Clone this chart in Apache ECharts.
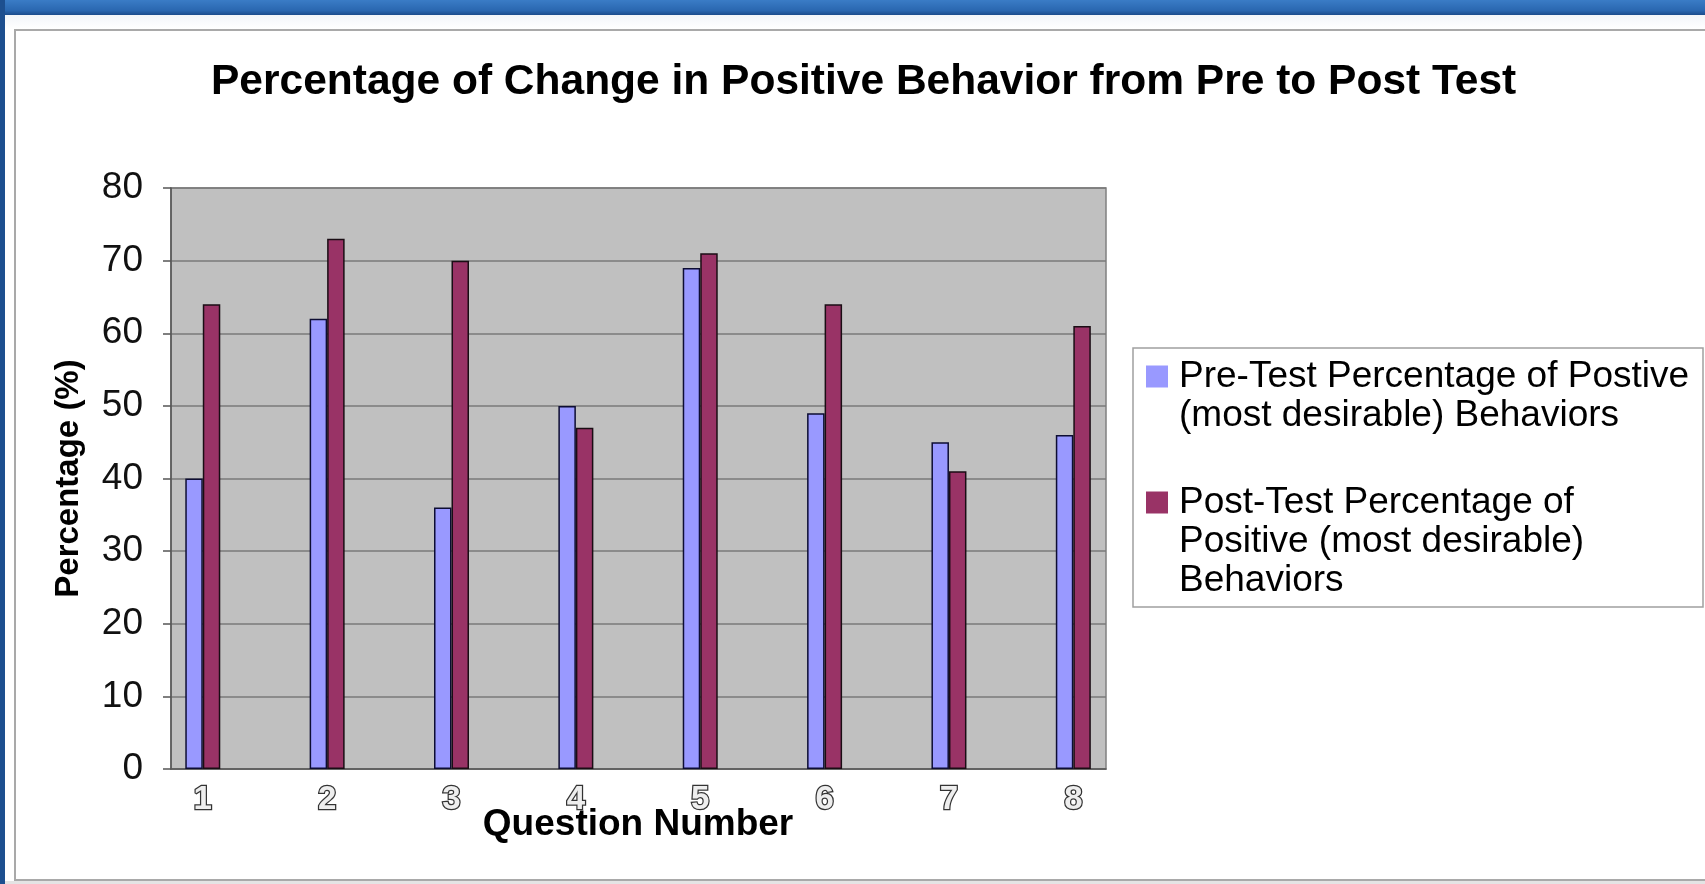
<!DOCTYPE html>
<html>
<head>
<meta charset="utf-8">
<title>Percentage of Change in Positive Behavior from Pre to Post Test</title>
<script src="https://cdn.jsdelivr.net/npm/echarts@6/dist/echarts.min.js"></script>
<style>
  html, body { margin: 0; padding: 0; background: #ffffff; }
  #chart { width: 1705px; height: 884px; }
</style>
</head>
<body>
<div id="chart"></div>
<script>
// Question numbers along the x axis
const questionLabels = ['1', '2', '3', '4', '5', '6', '7', '8'];

// Percentage of positive behaviors per question
const preTest = [40, 62, 36, 50, 69, 49, 45, 46];
const postTest = [64, 73, 70, 47, 71, 64, 41, 61];

// Series names and how they wrap inside the legend
const seriesNames = [
  'Pre-Test Percentage of Postive (most desirable) Behaviors',
  'Post-Test Percentage of Positive (most desirable) Behaviors'
];
const legendLines = [
  ['Pre-Test Percentage of Postive', '(most desirable) Behaviors'],
  ['Post-Test Percentage of', 'Positive (most desirable)', 'Behaviors']
];

// Value axis range
const yMin = 0;
const yMax = 80;
const yStep = 10;

const FONT = '"Liberation Sans", Arial, Helvetica, sans-serif';
const LEGEND_LH = 39;

const chart = echarts.init(document.getElementById('chart'), null, { renderer: 'canvas' });

// One legend per series; leading empty lines keep the swatch level with the first text line
function legendFor(i, top) {
  const lines = legendLines[i];
  const lead = new Array(lines.length - 1).fill('').join('\n');
  return {
    data: [seriesNames[i]],
    orient: 'vertical',
    left: 1146,
    top: top,
    padding: 0,
    icon: 'rect',
    itemWidth: 22,
    itemHeight: 22,
    itemStyle: { borderWidth: 0 },
    selectedMode: false,
    formatter: function () { return lead + '\n' + lines.join('\n'); },
    textStyle: {
      fontFamily: FONT,
      fontSize: 37,
      lineHeight: LEGEND_LH,
      color: '#000000',
      padding: [0, 0, 0, 6],
      backgroundColor: 'rgba(0,0,0,0)'
    }
  };
}

const option = {
  animation: false,
  backgroundColor: '#ffffff',
  textStyle: { fontFamily: FONT },
  graphic: [
    // window frame: blue title strip and left edge
    {
      type: 'rect', z: -10,
      shape: { x: 0, y: 0, width: 1705, height: 15 },
      style: {
        fill: new echarts.graphic.LinearGradient(0, 0, 0, 1, [
          { offset: 0, color: '#3a7cc6' },
          { offset: 0.7, color: '#2a67b0' },
          { offset: 1, color: '#1b4c8c' }
        ])
      }
    },
    {
      type: 'rect', z: -10,
      shape: { x: 0, y: 0, width: 5, height: 884 },
      style: { fill: '#1d4f8f' }
    },
    {
      type: 'rect', z: -10,
      shape: { x: 5, y: 15, width: 1700, height: 14 },
      style: {
        fill: new echarts.graphic.LinearGradient(0, 0, 0, 1, [
          { offset: 0, color: '#f2f5f9' },
          { offset: 1, color: '#ffffff' }
        ])
      }
    },
    // chart area border
    {
      type: 'rect', z: -9,
      shape: { x: 15, y: 30, width: 1700, height: 850 },
      style: { fill: '#ffffff', stroke: '#a9a9a9', lineWidth: 2 }
    },
    {
      type: 'rect', z: -9,
      shape: { x: 5, y: 881, width: 1700, height: 3 },
      style: { fill: '#e4e4e4' }
    },
    // legend box
    {
      type: 'rect', z: -8,
      shape: { x: 1133, y: 348, width: 570, height: 259 },
      style: { fill: '#ffffff', stroke: '#a0a0a0', lineWidth: 1.5 }
    }
  ],
  title: {
    text: 'Percentage of Change in Positive Behavior from Pre to Post Test',
    left: 211,
    top: 61,
    padding: 0,
    textStyle: {
      fontFamily: FONT,
      fontSize: 42.5,
      fontWeight: 'bold',
      color: '#000000'
    }
  },
  legend: [legendFor(0, 318), legendFor(1, 405)],
  grid: [
    // visible plot area
    {
      left: 171, right: 599, top: 188, bottom: 115,
      show: true,
      backgroundColor: '#c0c0c0',
      borderColor: '#808080',
      borderWidth: 1.5
    },
    // category layout for the bars
    {
      left: 140.6, right: 569.5, top: 188, bottom: 115
    }
  ],
  xAxis: [
    {
      type: 'category',
      gridIndex: 0,
      data: questionLabels,
      axisLine: { show: true, lineStyle: { color: '#5a5a5a', width: 1.5 } },
      axisTick: { show: false },
      axisLabel: { show: false },
      splitLine: { show: false }
    },
    {
      type: 'category',
      gridIndex: 1,
      data: questionLabels,
      axisLine: { show: false },
      axisTick: { show: false },
      splitLine: { show: false },
      axisLabel: {
        margin: 14,
        fontFamily: FONT,
        fontSize: 33,
        fontWeight: 'bold',
        color: '#eeeeee',
        textBorderColor: '#333333',
        textBorderWidth: 2.5
      },
      name: 'Question Number',
      nameLocation: 'middle',
      nameGap: 37,
      nameMoveOverlap: false,
      nameTextStyle: {
        fontFamily: FONT,
        fontSize: 37,
        fontWeight: 'bold',
        color: '#000000'
      }
    }
  ],
  yAxis: [
    {
      type: 'value',
      gridIndex: 0,
      min: yMin,
      max: yMax,
      interval: yStep,
      axisLine: { show: true, lineStyle: { color: '#555555', width: 1.5 } },
      axisTick: { show: true, length: 8, lineStyle: { color: '#555555', width: 1.5 } },
      splitLine: { show: true, lineStyle: { color: '#7a7a7a', width: 1.5 } },
      axisLabel: {
        margin: 28,
        fontFamily: FONT,
        fontSize: 37,
        color: '#111111'
      },
      name: 'Percentage (%)',
      nameLocation: 'middle',
      nameGap: 86,
      nameTextStyle: {
        fontFamily: FONT,
        fontSize: 33,
        fontWeight: 'bold',
        color: '#000000'
      }
    },
    {
      type: 'value',
      gridIndex: 1,
      min: yMin,
      max: yMax,
      interval: yStep,
      show: false
    }
  ],
  series: [
    {
      name: seriesNames[0],
      type: 'bar',
      xAxisIndex: 1,
      yAxisIndex: 1,
      data: preTest,
      barWidth: 17.5,
      barGap: '0%',
      itemStyle: { color: '#9999ff', borderColor: '#0d0d33', borderWidth: 1.5 }
    },
    {
      name: seriesNames[1],
      type: 'bar',
      xAxisIndex: 1,
      yAxisIndex: 1,
      data: postTest,
      barWidth: 17.5,
      barGap: '0%',
      itemStyle: { color: '#993366', borderColor: '#1a0d14', borderWidth: 1.5 }
    }
  ]
};

chart.setOption(option);
</script>
</body>
</html>
